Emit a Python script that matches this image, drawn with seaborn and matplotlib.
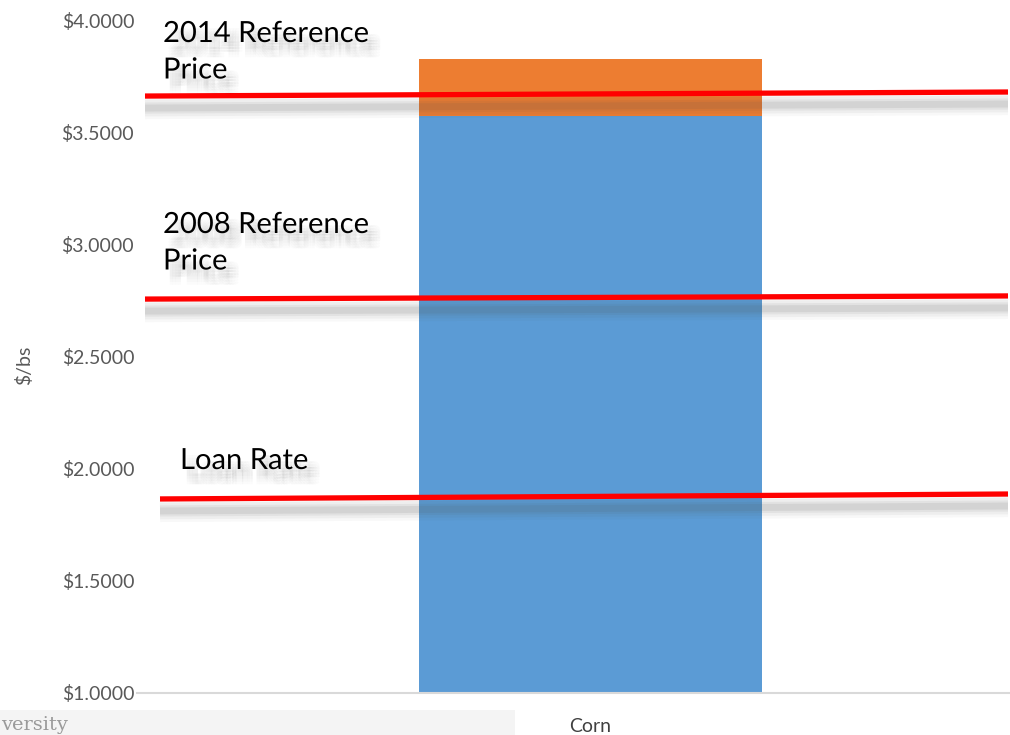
import numpy as np
import pandas as pd
import matplotlib
matplotlib.use("Agg")
import matplotlib.pyplot as plt
import matplotlib.patches as mpatches
import matplotlib.patheffects as pe
import seaborn as sns

# 数据
crops = ["Corn"]
base_price = [3.572]      # 蓝色部分
total_price = [3.826]     # 橙色顶部
line_names = ["2014 Reference\nPrice", "2008 Reference\nPrice", "Loan Rate"]
line_left = [3.661, 2.756, 1.865]
line_right = [3.679, 2.770, 1.887]
y_ticks = [1.0, 1.5, 2.0, 2.5, 3.0, 3.5, 4.0]

sns.set_theme(style="white")
plt.rcParams['font.family'] = ['Lato', 'DejaVu Sans']

fig = plt.figure(figsize=(10.1, 7.35), dpi=100)
W, H = 1010, 735
ax = fig.add_axes([137 / W, 1 - 693 / H, 907 / W, 673 / H])

df = pd.DataFrame({"crop": crops, "base": base_price, "total": total_price})
sns.barplot(data=df, x="crop", y="total", color="#ED7D31", saturation=1, width=0.378,
            linewidth=0, ax=ax)
sns.barplot(data=df, x="crop", y="base", color="#5B9BD5", saturation=1, width=0.378,
            linewidth=0, ax=ax)

ax.set_xlim(-0.5, 0.5)
ax.set_ylim(1.0, 4.0)
ax.set_yticks(y_ticks)
ax.set_yticklabels([f"${v:.4f}" for v in y_ticks], color="#595959", fontsize=14)
ax.tick_params(axis="y", length=0, pad=2)
ax.tick_params(axis="x", length=0, pad=18)
ax.set_xticks([0])
ax.set_xticklabels(crops, color="#404040", fontsize=14)
ax.set_xlabel("")
ax.set_ylabel("$/bs", color="#595959", fontsize=14)
ax.yaxis.set_label_coords(-0.1147, 0.487)
for s in ["top", "right", "left"]:
    ax.spines[s].set_visible(False)
ax.spines["bottom"].set_color("#d9d9d9")
ax.spines["bottom"].set_linewidth(1.5)

# 红线（带阴影）
def px2x(px):
    return -0.5 + (px - 137) / 907

starts = [145, 145, 160]
for i in range(3):
    xs = [px2x(starts[i]), px2x(1008)]
    ys = [line_left[i], line_right[i]]
    sh = -12 / 224.33
    for lw, a in [(16, 0.04), (12, 0.06), (8, 0.08), (5, 0.10)]:
        ax.plot(xs, [y + sh for y in ys], color="#555555", lw=lw, alpha=a,
                solid_capstyle="butt", clip_on=False, zorder=4)
    ax.plot(xs, ys, color="#FF0000", lw=3.8, solid_capstyle="butt", clip_on=False, zorder=5)

# 标签文字（模糊阴影）
shadow = []
for dx in [3, 5, 7, 9]:
    for dy in [-5, -7, -9, -11]:
        shadow.append(pe.SimplePatchShadow(offset=(dx, dy), shadow_rgbFace="#444444", alpha=0.018))
shadow.append(pe.Normal())
label_pos = [(163, 21), (163, 212), (180, 448)]
for name, (px, py) in zip(line_names, label_pos):
    fig.text(px / W, 1 - py / H, name, fontsize=21, color="black", va="top", ha="left",
             linespacing=1.5, zorder=10, path_effects=shadow)

# 底部水印
fig.patches.append(mpatches.Rectangle((0, 0), 515 / W, 25 / H, transform=fig.transFigure,
                                      facecolor="#f4f4f4", edgecolor="none", zorder=0))
fig.text(1 / W, 1 / H, "versity", fontsize=14, color="#9a9a9a", family="DejaVu Serif",
         va="bottom", ha="left")

fig.savefig("out.png", dpi=100)
